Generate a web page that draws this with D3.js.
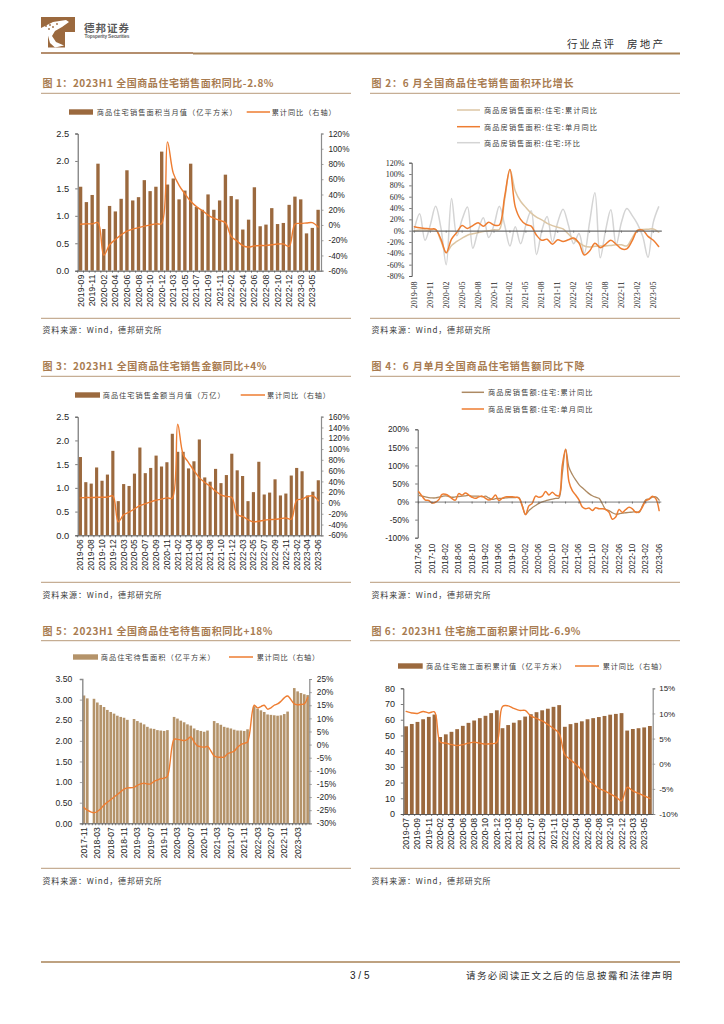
<!DOCTYPE html>
<html><head><meta charset="utf-8">
<script src="https://cdnjs.cloudflare.com/ajax/libs/d3/7.8.5/d3.min.js"></script>
<style>html,body{margin:0;padding:0;background:#fff}svg{display:block}</style>
</head><body><div id="c"></div>
<script>
// ---------- Figure 1 ----------
const cats1=["2019-09","2019-10","2019-11","2019-12","2020-02","2020-03","2020-04","2020-05","2020-06","2020-07","2020-08","2020-09","2020-10","2020-11","2020-12","2021-02","2021-03","2021-04","2021-05","2021-06","2021-07","2021-08","2021-09","2021-10","2021-11","2021-12","2022-02","2022-03","2022-04","2022-05","2022-06","2022-07","2022-08","2022-09","2022-10","2022-11","2022-12","2023-02","2023-03","2023-04","2023-05","2023-06"];
const ticks1=["2019-09","2019-11","2020-02","2020-04","2020-06","2020-08","2020-10","2020-12","2021-03","2021-05","2021-07","2021-09","2021-11","2022-02","2022-04","2022-06","2022-08","2022-10","2022-12","2023-03","2023-05"];
const bars1=[1.53,1.25,1.38,1.95,0.76,1.18,1.08,1.31,1.83,1.28,1.34,1.65,1.45,1.53,2.17,1.57,1.68,1.30,1.46,1.95,1.16,1.11,1.39,1.11,1.28,1.75,1.36,1.30,0.75,0.93,1.52,0.81,0.84,1.14,0.85,0.87,1.20,1.35,1.30,0.68,0.78,1.11];
const line1=[1,1.5,1.5,3,-39.6,-26,-19,-13,-8,-5.5,-3.5,-1.5,0,1.5,2,109,68,52,41,31,24,19,13,9,6,3,-15,-21,-27,-29,-27.5,-27,-27,-26,-25,-25,-28,1,2,2.5,3,-2.8];
// ---------- Figure 2 ----------
const cats2=["2019-08","2019-09","2019-10","2019-11","2019-12","2020-01","2020-02","2020-03","2020-04","2020-05","2020-06","2020-07","2020-08","2020-09","2020-10","2020-11","2020-12","2021-01","2021-02","2021-03","2021-04","2021-05","2021-06","2021-07","2021-08","2021-09","2021-10","2021-11","2021-12","2022-01","2022-02","2022-03","2022-04","2022-05","2022-06","2022-07","2022-08","2022-09","2022-10","2022-11","2022-12","2023-01","2023-02","2023-03","2023-04","2023-05","2023-06"];
const ticks2=["2019-08","2019-11","2020-02","2020-05","2020-08","2020-11","2021-02","2021-05","2021-08","2021-11","2022-02","2022-05","2022-08","2022-11","2023-02","2023-05"];
const cum2=[0,1,1,1,2,-18,-39,-26,-19,-13,-8,-5.5,-3.5,-1.5,0,1.5,2,55,108,70,52,41,31,24,19,13,9,6,3,-6,-15,-21,-27,-29,-27.5,-27,-27,-26,-25,-25,-27,-13,1,2,2.5,3,-2.8];
const mon2=[7,5,4,3,2.5,-15,-39,-15,-3,9,4,9,14,8,15,10,10,60,108,42,20,11,8,-8,-17,-15,-24,-16,-19,-16,-13,-22,-43,-36,-22,-30,-24,-17,-24,-32,-32,-18,0,1,-10,-17,-28];
const mom2=[3,30,-17,10,43,5,-60,57,-9,20,42,-31,0,23,-12,10,43,10,-27,7,-23,10,35,-42,0,25,-20,15,38,10,-23,-5,-40,15,67,-48,0,37,-25,15,39,27,12,-10,-47,15,42];
// ---------- Figure 3 ----------
const cats3=["2019-06","2019-07","2019-08","2019-09","2019-10","2019-11","2019-12","2020-02","2020-03","2020-04","2020-05","2020-06","2020-07","2020-08","2020-09","2020-10","2020-11","2020-12","2021-02","2021-03","2021-04","2021-05","2021-06","2021-07","2021-08","2021-09","2021-10","2021-11","2021-12","2022-02","2022-03","2022-04","2022-05","2022-06","2022-07","2022-08","2022-09","2022-10","2022-11","2022-12","2023-02","2023-03","2023-04","2023-05","2023-06"];
const ticks3=["2019-06","2019-08","2019-10","2019-12","2020-03","2020-05","2020-07","2020-09","2020-11","2021-02","2021-04","2021-06","2021-08","2021-10","2021-12","2022-03","2022-05","2022-07","2022-09","2022-11","2023-02","2023-04","2023-06"];
const bars3=[1.65,1.12,1.09,1.43,1.15,1.28,1.78,0.72,1.08,1.04,1.30,1.85,1.31,1.42,1.68,1.45,1.54,2.14,1.76,1.76,1.41,1.56,2.02,1.22,1.13,1.40,1.10,1.27,1.72,1.37,1.25,0.72,0.91,1.55,0.86,0.90,1.18,0.84,0.88,1.26,1.42,1.35,0.84,0.92,1.16];
const line3=[9.5,10,10,10.5,10.5,11,13,-35,-22,-17,-11,-5,-1.5,2,5,7,9.5,9,146,90,75,60,47,38,31,22,15,12,10,-22,-25,-31,-35,-34,-32,-31,-30.5,-29,-28,-30,5,7,12,13,4];
// ---------- Figure 4 ----------
const cats4=["2017-06","2017-07","2017-08","2017-09","2017-10","2017-11","2017-12","2018-01","2018-02","2018-03","2018-04","2018-05","2018-06","2018-07","2018-08","2018-09","2018-10","2018-11","2018-12","2019-01","2019-02","2019-03","2019-04","2019-05","2019-06","2019-07","2019-08","2019-09","2019-10","2019-11","2019-12","2020-01","2020-02","2020-03","2020-04","2020-05","2020-06","2020-07","2020-08","2020-09","2020-10","2020-11","2020-12","2021-01","2021-02","2021-03","2021-04","2021-05","2021-06","2021-07","2021-08","2021-09","2021-10","2021-11","2021-12","2022-01","2022-02","2022-03","2022-04","2022-05","2022-06","2022-07","2022-08","2022-09","2022-10","2022-11","2022-12","2023-01","2023-02","2023-03","2023-04","2023-05","2023-06"];
const ticks4=["2017-06","2017-10","2018-02","2018-06","2018-10","2019-02","2019-06","2019-10","2020-02","2020-06","2020-10","2021-02","2021-06","2021-10","2022-02","2022-06","2022-10","2023-02","2023-06"];
const cum4=[17,15,13,11,10,10,12,14,16,14,12,13,14,15,16,17,15,15,15,13,15,10,6,8,9,9,10,11,11,11,11,-10,-36,-25,-17,-11,-5,-1,2,5,7,9,10,77,145,95,75,60,47,38,30,22,16,12,9,-6,-22,-25,-31,-35,-34,-32,-31,-30,-29,-28,-30,-12,5,7,12,13,4];
const mon4=[27,15,4,3,-4,-2,5,20,20,16,8,4,22,18,24,18,12,9,13,15,9,4,8,18,3,9,13,13,13,12,10,-12,-36,-12,-5,15,12,15,28,18,26,18,16,100,145,55,30,18,5,-15,-20,-18,-25,-17,-20,-20,-22,-30,-49,-43,-22,-30,-22,-16,-20,-30,-28,-15,2,7,15,8,-25];
// ---------- Figure 5 ----------
const cats5=["2017-11","2017-12","2018-01","2018-02","2018-03","2018-04","2018-05","2018-06","2018-07","2018-08","2018-09","2018-10","2018-11","2018-12","2019-01","2019-02","2019-03","2019-04","2019-05","2019-06","2019-07","2019-08","2019-09","2019-10","2019-11","2019-12","2020-01","2020-02","2020-03","2020-04","2020-05","2020-06","2020-07","2020-08","2020-09","2020-10","2020-11","2020-12","2021-01","2021-02","2021-03","2021-04","2021-05","2021-06","2021-07","2021-08","2021-09","2021-10","2021-11","2021-12","2022-01","2022-02","2022-03","2022-04","2022-05","2022-06","2022-07","2022-08","2022-09","2022-10","2022-11","2022-12","2023-01","2023-02","2023-03","2023-04","2023-05","2023-06"];
const ticks5=["2017-11","2018-03","2018-07","2018-11","2019-03","2019-07","2019-11","2020-03","2020-07","2020-11","2021-03","2021-07","2021-11","2022-03","2022-07","2022-11","2023-03"];
const bars5=[3.10,3.03,null,3.02,2.93,2.87,2.82,2.75,2.70,2.66,2.61,2.58,2.56,2.51,null,2.53,2.48,2.44,2.40,2.34,2.30,2.29,2.26,2.25,2.24,2.26,null,2.58,2.54,2.49,2.45,2.40,2.37,2.30,2.26,2.24,2.22,2.25,null,2.48,2.43,2.39,2.34,2.32,2.30,2.27,2.25,2.25,2.24,2.28,null,2.84,2.78,2.74,2.70,2.64,2.63,2.62,2.61,2.62,2.65,2.71,null,3.28,3.20,3.16,3.13,3.11];
const line5=[-24,-25,null,-26,-25.5,-24.5,-23,-22,-21,-20,-19,-18,-17,-16.5,null,-16.3,-15.5,-15,-14.7,-15,-15,-14,-13.5,-13,-12.8,-12,null,2,2,1.8,1.5,2,3,1,-0.5,-0.8,-1,-0.7,null,-4.3,-4.8,-4.8,-4.8,-3.5,-3,-2.5,-1,0,0.5,1,null,15,14,14.5,15,13.5,14,15,15.5,16.5,17.8,18.5,null,15.5,15.2,15.3,15.5,18];
// ---------- Figure 6 ----------
const cats6=["2019-07","2019-08","2019-09","2019-10","2019-11","2019-12","2020-02","2020-03","2020-04","2020-05","2020-06","2020-07","2020-08","2020-09","2020-10","2020-11","2020-12","2021-02","2021-03","2021-04","2021-05","2021-06","2021-07","2021-08","2021-09","2021-10","2021-11","2021-12","2022-02","2022-03","2022-04","2022-05","2022-06","2022-07","2022-08","2022-09","2022-10","2022-11","2022-12","2023-02","2023-03","2023-04","2023-05","2023-06"];
const ticks6=["2019-07","2019-09","2019-11","2020-02","2020-04","2020-06","2020-08","2020-10","2020-12","2021-03","2021-05","2021-07","2021-09","2021-11","2022-02","2022-04","2022-06","2022-08","2022-10","2022-12","2023-03","2023-05"];
const bars6=[55.8,57.3,58.6,60.3,61.8,63.3,49,50.7,52.3,54,56.1,58,59.5,61,62.5,64.2,66,54.6,56.6,58.1,59.7,62,63.5,64.8,66,67,68.2,69.3,55.5,57.2,58,59,60.3,61,61.7,62.4,63.2,63.7,64.2,53.1,54.1,54.6,55.1,56];
const line6=[10.4,10.1,10,10.4,10.1,10.3,4.3,4.1,3.8,3.6,3.8,4.1,4.3,4.1,3.9,4,4.2,11.4,11.5,11,10.6,10.6,9.5,9,8.5,7.8,7,6,1.8,0.8,-0.2,-1.3,-3.2,-4,-4.9,-5.4,-6,-6.6,-7.4,-4.7,-5.4,-5.9,-6.4,-6.9];

const BROWN="#9b693e",TAN="#b4936a",ORANGE="#ee7d31",RULE="#b89a7b",TITLE="#a87b50",AXIS="#7f7f7f",INK="#262626";
const CJK='"Noto Sans CJK SC","Noto Sans",sans-serif', SANS='"Liberation Sans",Arial,sans-serif', SERIF='"Liberation Serif","Times New Roman",serif';
const svg=d3.select("#c").append("svg").attr("width",724).attr("height",1024);

function label(x,y,s,o={}){
  const t=svg.append("text").attr("x",x).attr("y",y).text(s)
    .attr("font-family",o.font||CJK).attr("font-size",o.size||7.2).attr("fill",o.fill||"#404040")
    .attr("dominant-baseline","central").attr("text-anchor",o.anchor||"start");
  if(o.weight)t.attr("font-weight",o.weight);
  if(o.len)t.attr("textLength",o.len).attr("lengthAdjust","spacing");
  return t;
}
function rule(x1,x2,y,w,c){svg.append("line").attr("x1",x1).attr("x2",x2).attr("y1",y).attr("y2",y).attr("stroke",c).attr("stroke-width",w);}
function panel(x1,x2,titleY,ruleY,sourceRuleY,sourceY,title,titleLen){
  label(x1+1.5,titleY,title,{size:10,weight:700,fill:TITLE,len:titleLen});
  rule(x1,x2,ruleY,1,RULE);
  rule(x1,x2,sourceRuleY,1,RULE);
  label(x1+1.5,sourceY,"资料来源：Wind，德邦研究所",{size:8,fill:"#3a3a3a",len:119});
}
function legendBar(x1,x2,y,txtX,txt,len,c){
  svg.append("rect").attr("x",x1).attr("y",y-2.7).attr("width",x2-x1).attr("height",5.4).attr("fill",c);
  label(txtX,y,txt,{len});
}
function legendLine(x1,x2,y,txtX,txt,len,c){
  svg.append("line").attr("x1",x1).attr("x2",x2).attr("y1",y).attr("y2",y).attr("stroke",c).attr("stroke-width",1.5);
  label(txtX,y,txt,{len});
}
function styleAxis(g,o){
  g.selectAll("path.domain").attr("stroke",o.color||AXIS).attr("stroke-width",o.lw||1);
  g.selectAll(".tick line").attr("stroke",o.color||AXIS).attr("stroke-width",.8);
  g.selectAll("text").attr("font-family",o.font||SANS).attr("font-size",o.size).attr("fill",INK);
}
function yAxisLeft(y,x0,vals,fmt,size,o={}){
  const g=svg.append("g").attr("transform",`translate(${x0},0)`)
    .call(d3.axisLeft(y).tickValues(vals).tickFormat(fmt).tickSize(2.5).tickSizeOuter(2.5));
  styleAxis(g,{color:o.color||"#595959",lw:o.lw||1,size,font:o.font});
  g.selectAll("text").attr("x",-(o.gap||8));
}
function yAxisRight(y,x0,vals,fmt,size,gap){
  const g=svg.append("g").attr("transform",`translate(${x0},0)`)
    .call(d3.axisRight(y).tickValues(vals).tickFormat(fmt).tickSize(2.5).tickSizeOuter(2.5));
  styleAxis(g,{color:"#8c8c8c",lw:1.2,size});
  g.selectAll("text").attr("x",gap||7.5);
}
function series(cats,vals,x,y,color,w){
  const pts=cats.map((c,i)=>({c,v:vals[i]})).filter(d=>d.v!==null&&d.v!==undefined);
  svg.append("path").datum(pts).attr("fill","none").attr("stroke",color).attr("stroke-width",w||1.4)
    .attr("stroke-linejoin","round").attr("stroke-linecap","round")
    .attr("d",d3.line().curve(d3.curveCatmullRom.alpha(.5)).x(d=>x(d.c)+x.bandwidth()/2).y(d=>y(d.v)));
}
function columns(cats,vals,x,y,color){
  const pts=cats.map((c,i)=>({c,v:vals[i]})).filter(d=>d.v!==null);
  svg.append("g").selectAll("rect").data(pts).join("rect")
    .attr("x",d=>x(d.c)).attr("width",x.bandwidth())
    .attr("y",d=>y(d.v)).attr("height",d=>y(0)-y(d.v)).attr("fill",color);
}
const range=(a,b,s)=>d3.range(a,b+s/2,s);
const pct=d=>d+"%";
function combo(o){
  const x=d3.scaleBand().domain(o.cats).range([o.x0,o.x1]).paddingInner(o.pad).paddingOuter(o.pad/2);
  const yL=d3.scaleLinear().domain(o.left).range([o.bottom,o.top]);
  const yR=d3.scaleLinear().domain(o.right).range([o.bottom,o.top]);
  columns(o.cats,o.bars,x,yL,o.color);
  yAxisLeft(yL,o.x0,o.leftTicks,o.leftFmt,o.leftSize,{gap:o.leftGap,lw:o.leftLw,color:o.leftColor});
  yAxisRight(yR,o.x1,o.rightTicks,pct,o.rightSize,o.rightGap);
  const full=d3.scaleBand().domain(o.cats).range([o.x0,o.x1]);
  const g=svg.append("g").attr("transform",`translate(0,${o.bottom})`)
    .call(d3.axisBottom(full).tickValues(o.cats).tickFormat(d=>o.ticks.includes(d)?d:"").tickSizeInner(2).tickSizeOuter(0));
  styleAxis(g,{color:"#595959",lw:1,size:o.xSize});
  g.selectAll(".tick line").attr("transform",`translate(${-full.bandwidth()/2},0)`);
  g.selectAll("text").attr("transform","rotate(-90)").attr("text-anchor","end").attr("x",-4).attr("y",0).attr("dy",0).attr("dominant-baseline","central");
  series(o.cats,o.line,x,yR,ORANGE,1.4);
}

// ===== header =====
svg.append("path").attr("fill","#9b693e").attr("d","M41,17H75V32H65V47.5H48V32H41Z");
svg.append("path").attr("fill","#fff").attr("d","M41,28L53,22L66,20L69,22L62,27L55,31L52,36L56,42L64,45.5L55,47.5L50,43L47,32L41,32Z");
[[46,26],[50,25],[53,27],[57,24],[49,29]].forEach(p=>svg.append("circle").attr("cx",p[0]).attr("cy",p[1]).attr("r",.9).attr("fill","#9b693e"));
label(84,27.5,"德邦证券",{size:10.5,weight:700,fill:"#5a5a5a",len:45});
label(84.5,36,"Topsperity Securities",{size:4.8,font:SANS,fill:"#666",weight:700,len:45});
label(567,43,"行业点评",{size:10.5,fill:"#303030",len:47});
label(627,43,"房地产",{size:10.5,fill:"#303030",len:36});
rule(41,193,53,1.5,"#9b693e");
rule(193,680,53.5,2,"#a98357");

// ===== Figure 1 =====
panel(41,351,82.7,93.3,318.3,329.5,"图 1：2023H1 全国商品住宅销售面积同比-2.8%",231);
legendBar(69,93,112,96.7,"商品住宅销售面积当月值（亿平方米）",140,BROWN);
legendLine(246.7,270,112,271.7,"累计同比（右轴）",64,ORANGE);
combo({cats:cats1,ticks:ticks1,bars:bars1,line:line1,x0:77.7,x1:321,top:133.5,bottom:270.7,left:[0,2.5],right:[-60,120],pad:.42,color:BROWN,
  leftTicks:range(0,2.5,.5),leftFmt:d3.format(".1f"),rightTicks:range(-60,120,20),leftSize:9.3,rightSize:8.2,xSize:8.8,leftGap:8.5});

// ===== Figure 2 =====
panel(370,680,82.7,93.3,318.3,329.5,"图 2：6 月全国商品住宅销售面积环比增长",202);
legendLine(457,480,110,484,"商品房销售面积:住宅:累计同比",113,"#dcc6a4");
legendLine(457,480,126.7,484,"商品房销售面积:住宅:单月同比",113,ORANGE);
legendLine(457,480,142.7,484,"商品房销售面积:住宅:环比",96,"#d4d4d4");
(function(){
  const x=d3.scaleBand().domain(cats2).range([411.7,661.3]);
  const y=d3.scaleLinear().domain([-80,120]).range([276,162.7]);
  yAxisLeft(y,411.7,range(-80,120,20),pct,8,{font:SERIF,color:"#595959",gap:7.4});
  series(cats2,mom2,x,y,"#d4d4d4",1.5);
  series(cats2,cum2,x,y,"#dcc6a4",1.5);
  series(cats2,mon2,x,y,ORANGE,1.5);
  const g=svg.append("g").attr("transform",`translate(0,${y(0)})`)
    .call(d3.axisBottom(x).tickValues(ticks2).tickFormat("").tickSizeInner(2).tickSizeOuter(0));
  styleAxis(g,{color:"#6b6b6b",lw:1.2,size:8});
  const g2=svg.append("g").attr("transform",`translate(0,${y(-80)})`).call(d3.axisBottom(x).tickValues(ticks2).tickSize(0));
  g2.select("path.domain").remove();
  g2.selectAll("text").attr("font-family",SERIF).attr("font-size",8).attr("fill",INK).attr("transform","rotate(-90)").attr("text-anchor","end").attr("x",-5.5).attr("y",0).attr("dy",0).attr("dominant-baseline","central");
})();

// ===== Figure 3 =====
panel(41,351,365.7,376.3,582.3,594,"图 3：2023H1 全国商品住宅销售金额同比+4%",224);
legendBar(75,100,395,102.7,"商品住宅销售金额当月值（万亿）",122,BROWN);
legendLine(240.7,265,395,267,"累计同比（右轴）",63,ORANGE);
combo({cats:cats3,ticks:ticks3,bars:bars3,line:line3,x0:77.7,x1:321,top:416.7,bottom:535.3,left:[0,2.5],right:[-60,160],pad:.42,color:BROWN,
  leftTicks:range(0,2.5,.5),leftFmt:d3.format(".1f"),rightTicks:range(-60,160,20),leftSize:9.3,rightSize:8.2,xSize:8.5,leftGap:8.5});

// ===== Figure 4 =====
panel(370,680,365.7,376.3,582.3,594,"图 4：6 月单月全国商品住宅销售额同比下降",213);
legendLine(461.7,484,392.3,488,"商品房销售额:住宅:累计同比",104.5,"#ad8a63");
legendLine(461.7,484,409,488,"商品房销售额:住宅:单月同比",104.5,ORANGE);
(function(){
  const x=d3.scaleBand().domain(cats4).range([417,660.8]);
  const y=d3.scaleLinear().domain([-100,200]).range([537.7,429.3]);
  yAxisLeft(y,417.7,range(-100,200,50),pct,8.3,{color:"#595959",gap:8.5});
  series(cats4,cum4,x,y,"#ad8a63",1.3);
  series(cats4,mon4,x,y,ORANGE,1.5);
  const g=svg.append("g").attr("transform",`translate(0,${y(0)})`)
    .call(d3.axisBottom(x).tickValues(ticks4).tickFormat("").tickSizeInner(2).tickSizeOuter(0));
  styleAxis(g,{color:"#595959",lw:.8,size:8});
  const g2=svg.append("g").attr("transform",`translate(0,${y(-100)})`).call(d3.axisBottom(x).tickValues(ticks4).tickSize(0));
  g2.select("path.domain").remove();
  g2.selectAll("text").attr("font-family",SANS).attr("font-size",8.2).attr("fill",INK).attr("transform","rotate(-90)").attr("text-anchor","end").attr("x",-6).attr("y",0).attr("dy",0).attr("dominant-baseline","central");
})();

// ===== Figure 5 =====
panel(41,351,630.7,640.7,868.3,880,"图 5：2023H1 全国商品住宅待售面积同比+18%",230);
legendBar(73,98,657,100.7,"商品住宅待售面积（亿平方米）",114,TAN);
legendLine(229,253,657,256.7,"累计同比（右轴）",62.5,ORANGE);
combo({cats:cats5,ticks:ticks5,bars:bars5,line:line5,x0:82.3,x1:309.3,top:679,bottom:823.3,left:[0,3.5],right:[-30,25],pad:.22,color:TAN,
  leftTicks:range(0,3.5,.5),leftFmt:d3.format(".2f"),rightTicks:range(-30,25,5),leftSize:8.6,rightSize:8.3,xSize:8.6,leftGap:10,leftLw:1.4,leftColor:"#8c8c8c"});

// ===== Figure 6 =====
panel(370,680,630.7,640.7,868.3,880,"图 6：2023H1 住宅施工面积累计同比-6.9%",209);
legendBar(398,422.7,666,426,"商品住宅施工面积累计值（亿平方米）",140,BROWN);
legendLine(575,599,666,602.7,"累计同比（右轴）",63.5,ORANGE);
combo({cats:cats6,ticks:ticks6,bars:bars6,line:line6,x0:403.3,x1:652.7,top:688.3,bottom:814,left:[0,80],right:[-10,15],pad:.33,color:BROWN,
  leftTicks:range(0,80,10),leftFmt:d3.format("d"),rightTicks:range(-10,15,5),leftSize:9,rightSize:8,xSize:8.6,leftGap:8.3,rightGap:6.5});

// ===== footer =====
rule(41,680,962,1.5,"#a98357");
label(350,975,"3 / 5",{size:10,font:SANS,fill:"#222"});
label(466,975,"请务必阅读正文之后的信息披露和法律声明",{size:9.5,fill:"#303030",len:206});
</script></body></html>
